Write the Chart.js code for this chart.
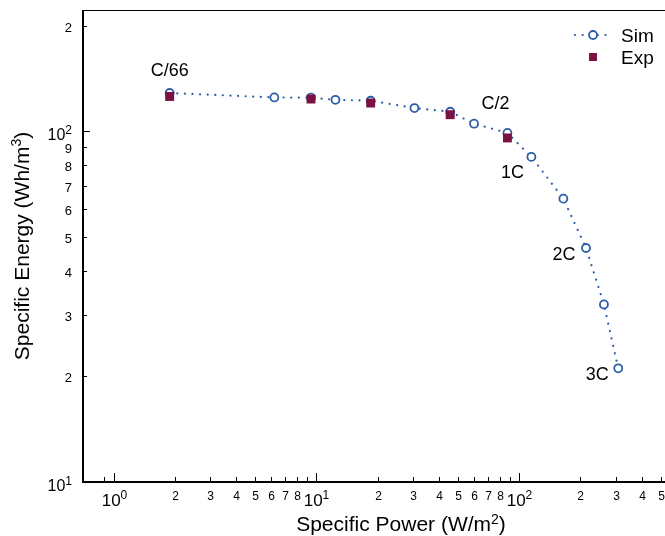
<!DOCTYPE html>
<html><head><meta charset="utf-8">
<script src="https://cdn.jsdelivr.net/npm/chart.js@4.4.1/dist/chart.umd.min.js"></script>
<style>html,body{margin:0;padding:0;background:#fff;}canvas{display:block;}</style>
</head><body>
<canvas id="c" width="665" height="536"></canvas>
<script>
// ---- data ----
const SIM_POWER  = [1.89, 6.2, 9.4, 12.4, 18.5, 30.4, 45.6, 59.8, 87.3, 114.6, 164.7, 213, 261, 307];
const SIM_ENERGY = [128.7, 125.0, 124.8, 123.1, 122.3, 116.6, 113.8, 105.2, 99.0, 84.6, 64.3, 46.5, 32.1, 21.1];
const EXP_POWER  = [1.89, 9.4, 18.5, 45.6, 87.3];
const EXP_ENERGY = [125.8, 123.7, 120.5, 111.6, 95.8];
const RATE_LABELS = ['C/66', 'C/2', '1C', '2C', '3C'];
const RATE_POINT_INDEX = [0, 8, 9, 11, 13];
const X_TICK_VALUES = [0.9, 1, 2, 3, 4, 5, 6, 7, 8, 9, 10, 20, 30, 40, 50, 60, 70, 80, 90, 100, 200, 300, 400, 500];
const X_TICK_LABELS = ['', '10^0', '2', '3', '4', '5', '6', '7', '8', '', '10^1', '2', '3', '4', '5', '6', '7', '8', '', '10^2', '2', '3', '4', '5'];
const Y_TICK_VALUES = [10, 20, 30, 40, 50, 60, 70, 80, 90, 100, 200];
const Y_TICK_LABELS = ['10^1', '2', '3', '4', '5', '6', '7', '8', '9', '10^2', '2'];
const X_TITLE = ['Specific Power (W/m', '2', ')'];
const Y_TITLE = ['Specific Energy (Wh/m', '3', ')'];
const SERIES_NAMES = ['Sim', 'Exp'];

// ---- styles ----
const FONT = '"Liberation Sans", Arial, sans-serif';
const SIM_COLOR = '#2d5ea8';
const EXP_COLOR = '#7a1142';
function f(size) { return size + 'px ' + FONT; }

function drawRich(ctx, segs, x, y, align) {
  let total = 0;
  segs.forEach(s => { ctx.font = f(s.size); s.w = ctx.measureText(s.text).width; total += s.w; });
  let cx = align === 'center' ? x - total / 2 : (align === 'right' ? x - total : x);
  ctx.textAlign = 'left';
  ctx.textBaseline = 'alphabetic';
  segs.forEach(s => { ctx.font = f(s.size); ctx.fillText(s.text, cx, y - (s.rise || 0)); cx += s.w; });
}

const decor = {
  id: 'decor',
  afterDraw(chart) {
    const ctx = chart.ctx;
    const a = chart.chartArea;
    const xs = chart.scales.x, ys = chart.scales.y;
    ctx.save();
    ctx.fillStyle = '#000';
    ctx.strokeStyle = '#000';
    // frame
    ctx.lineWidth = 1.2;
    ctx.beginPath(); ctx.moveTo(a.left, a.top + 0.5); ctx.lineTo(a.right, a.top + 0.5); ctx.stroke();
    ctx.lineWidth = 2;
    ctx.beginPath(); ctx.moveTo(a.left, a.top); ctx.lineTo(a.left, a.bottom); ctx.lineTo(a.right, a.bottom); ctx.stroke();
    // x ticks
    ctx.lineWidth = 1;
    X_TICK_VALUES.forEach((v, i) => {
      const px = Math.round(xs.getPixelForValue(v)) + 0.5;
      const lab = X_TICK_LABELS[i];
      const major = lab.indexOf('^') >= 0;
      ctx.beginPath(); ctx.moveTo(px, a.bottom); ctx.lineTo(px, a.bottom - (major ? 9 : 5)); ctx.stroke();
      if (!lab) return;
      if (major) {
        const p = lab.split('^');
        drawRich(ctx, [{ text: p[0], size: 17 }, { text: p[1], size: 12, rise: 7 }], px, a.bottom + 24, 'center');
      } else {
        drawRich(ctx, [{ text: lab, size: 12 }], px, a.bottom + 18, 'center');
      }
    });
    // y ticks
    Y_TICK_VALUES.forEach((v, i) => {
      const py = Math.round(ys.getPixelForValue(v)) + 0.5;
      const lab = Y_TICK_LABELS[i];
      const major = lab.indexOf('^') >= 0;
      ctx.beginPath(); ctx.moveTo(a.left, py); ctx.lineTo(a.left + (major ? 7 : 4), py); ctx.stroke();
      if (major) {
        const p = lab.split('^');
        drawRich(ctx, [{ text: p[0], size: 16 }, { text: p[1], size: 12, rise: 6 }], a.left - 11, py + 8, 'right');
      } else {
        drawRich(ctx, [{ text: lab, size: 13 }], a.left - 11, py + 5, 'right');
      }
    });
    // axis titles
    drawRich(ctx, [{ text: X_TITLE[0], size: 21 }, { text: X_TITLE[1], size: 14, rise: 7 }, { text: X_TITLE[2], size: 21 }],
      a.left + 318, a.bottom + 49, 'center');
    ctx.save();
    ctx.translate(29, (a.top + a.bottom) / 2);
    ctx.rotate(-Math.PI / 2);
    drawRich(ctx, [{ text: Y_TITLE[0], size: 21 }, { text: Y_TITLE[1], size: 14, rise: 8 }, { text: Y_TITLE[2], size: 21 }],
      0, 0, 'center');
    ctx.restore();
    // rate annotations
    const offs = [[0, -17], [-12, -24], [-19, 21], [-22, 12], [-21, 12]];
    RATE_LABELS.forEach((t, i) => {
      const k = RATE_POINT_INDEX[i];
      const px = xs.getPixelForValue(SIM_POWER[k]);
      const py = ys.getPixelForValue(SIM_ENERGY[k]);
      drawRich(ctx, [{ text: t, size: 18 }], px + offs[i][0], py + offs[i][1], 'center');
    });
    // legend
    const lx = a.right - 90, ly1 = a.top + 25, ly2 = a.top + 47;
    ctx.strokeStyle = SIM_COLOR;
    ctx.lineWidth = 2.2;
    ctx.lineCap = 'round';
    ctx.setLineDash([0.1, 7.5]);
    ctx.beginPath(); ctx.moveTo(lx, ly1); ctx.lineTo(lx + 36, ly1); ctx.stroke();
    ctx.setLineDash([]);
    ctx.lineWidth = 1.8;
    ctx.fillStyle = '#fff';
    ctx.beginPath(); ctx.arc(lx + 18, ly1, 4, 0, Math.PI * 2); ctx.fill(); ctx.stroke();
    ctx.fillStyle = EXP_COLOR;
    ctx.fillRect(lx + 14, ly2 - 4, 8, 8);
    ctx.fillStyle = '#000';
    drawRich(ctx, [{ text: SERIES_NAMES[0], size: 19 }], lx + 46, ly1 + 7, 'left');
    drawRich(ctx, [{ text: SERIES_NAMES[1], size: 19 }], lx + 46, ly2 + 7, 'left');
    ctx.restore();
  }
};

new Chart(document.getElementById('c'), {
  type: 'scatter',
  data: {
    datasets: [
      {
        label: SERIES_NAMES[1],
        data: EXP_POWER.map((x, i) => ({ x: x, y: EXP_ENERGY[i] })),
        pointStyle: 'rect',
        pointRadius: 6.3,
        backgroundColor: EXP_COLOR,
        borderColor: EXP_COLOR,
        borderWidth: 0,
        showLine: false,
        order: 0
      },
      {
        label: SERIES_NAMES[0],
        data: SIM_POWER.map((x, i) => ({ x: x, y: SIM_ENERGY[i] })),
        showLine: true,
        borderColor: SIM_COLOR,
        borderWidth: 2.2,
        borderDash: [0.1, 7.5],
        borderCapStyle: 'round',
        tension: 0,
        pointStyle: 'circle',
        pointRadius: 4,
        pointBorderWidth: 1.8,
        pointBorderColor: SIM_COLOR,
        pointBackgroundColor: '#fff',
        order: 1
      }
    ]
  },
  options: {
    responsive: false,
    devicePixelRatio: 1,
    animation: false,
    layout: { autoPadding: false, padding: { left: 0, top: 10, right: 0, bottom: 0 } },
    plugins: { legend: { display: false }, tooltip: { enabled: false } },
    scales: {
      x: {
        type: 'logarithmic', min: 0.707, max: 522, bounds: 'data',
        grid: { display: false }, border: { display: false },
        ticks: { display: false },
        afterFit: s => { s.height = 54; }
      },
      y: {
        type: 'logarithmic', min: 10, max: 222, bounds: 'data',
        grid: { display: false }, border: { display: false },
        ticks: { display: false },
        afterFit: s => { s.width = 83; }
      }
    }
  },
  plugins: [decor]
});
</script>
</body></html>
